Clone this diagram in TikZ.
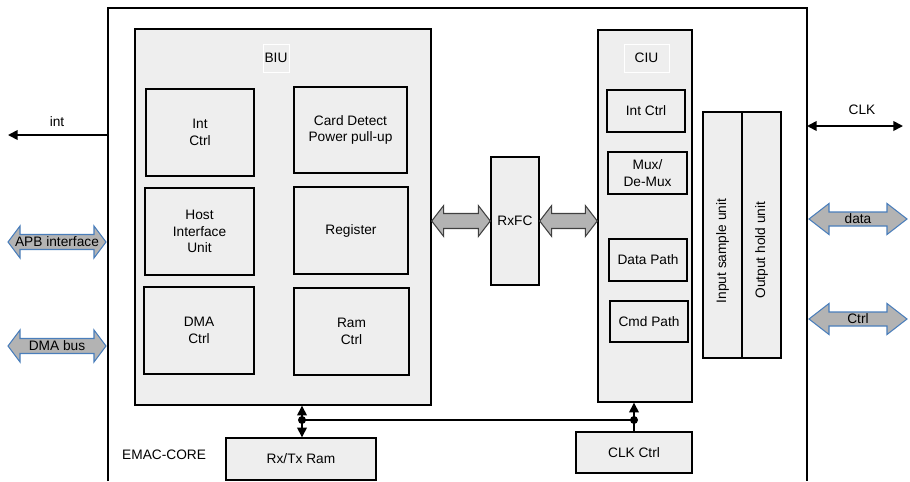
\documentclass[tikz,border=0pt]{standalone}
\usepackage{fontspec}
\setmainfont{Liberation Sans}
\usetikzlibrary{arrows.meta,calc}
\definecolor{boxGray}{HTML}{EEEEEE}
\definecolor{busGray}{HTML}{B3B3B3}
\definecolor{busBlue}{HTML}{4A7EBB}
\definecolor{busDark}{HTML}{404040}
\newlength\upx
\setlength\upx{0.2mm}

\begin{document}
\begin{tikzpicture}[x=0.2mm,y=-0.2mm,
    every node/.style={font=\fontsize{7.8}{9.3}\selectfont},
    sz/.style 2 args={minimum width=#1*\upx,minimum height=#2*\upx},
    fat/.style n args={4}{draw=#1,fill=busGray,line width=0.6pt,
      to path={let \p1=(\tikztostart),\p2=(\tikztotarget) in
        (\x1,\y1) -- (\x1+#2*\upx,\y1+#3*\upx) -- (\x1+#2*\upx,\y1+#4*\upx)
        -- (\x2-#2*\upx,\y1+#4*\upx) -- (\x2-#2*\upx,\y1+#3*\upx) -- (\x2,\y1)
        -- (\x2-#2*\upx,\y1-#3*\upx) -- (\x2-#2*\upx,\y1-#4*\upx)
        -- (\x1+#2*\upx,\y1-#4*\upx) -- (\x1+#2*\upx,\y1-#3*\upx) -- cycle}}]
  \tikzstyle{unit}=[draw,fill=boxGray,line width=0.8pt,inner sep=0pt]
  \tikzstyle{blk}=[draw,fill=boxGray,line width=0.8pt,inner sep=0pt,align=center]
  \tikzstyle{tag}=[draw=white,line width=0.5pt,fill=boxGray,inner sep=0pt]
  \tikzstyle{arr}=[line width=0.8pt,-{Triangle[length=5.5pt,width=5.5pt]}]
  \tikzstyle{dbl}=[line width=1pt,{Triangle[length=5.5pt,width=5.5pt]}-{Triangle[length=5.5pt,width=5.5pt]}]
  \useasboundingbox (0,0) rectangle (910,481);

  % EMAC core frame, open at the bottom
  \draw[line width=0.9pt] (108,481) -- (108,8) -- (807,8) -- (807,481);
  \node[anchor=west] (core) at (116,455) {EMAC-CORE};

  % BIU
  \node[unit,sz={296}{376}] (biu) at (283,217) {};
  \node[tag,sz={26}{28}] (biut) at (276,58) {BIU};
  \node[blk,sz={108}{87}] (bint) at (200,132.5) {Int\\Ctrl};
  \node[blk,sz={113}{86}] (card) at (350.5,130) {Card Detect\\Power pull-up};
  \node[blk,sz={109}{87}] (host) at (199.5,231.5) {Host\\Interface\\Unit};
  \node[blk,sz={114}{87}] (reg) at (351,230.5) {Register};
  \node[blk,sz={110}{87}] (dma) at (199,330.5) {DMA\\Ctrl};
  \node[blk,sz={115}{87}] (ram) at (351.5,331.5) {Ram\\Ctrl};

  % RxFC
  \node[blk,sz={48}{128}] (rxfc) at (515,221) {RxFC};

  % CIU
  \node[unit,sz={94}{372}] (ciu) at (645,216) {};
  \node[tag,sz={45}{28}] (ciut) at (646.5,58) {CIU};
  \node[blk,sz={78}{42}] (cint) at (646,111) {Int Ctrl};
  \node[blk,sz={79}{42}] (mux) at (647.5,173) {Mux/\\De-Mux};
  \node[blk,sz={78}{42}] (dpath) at (648,260) {Data Path};
  \node[blk,sz={78}{41}] (cpath) at (649,321.5) {Cmd Path};

  % sample / hold units
  \node[blk,sz={39}{246}] (insmp) at (722.5,235) {};
  \node[blk,sz={39}{246}] (outhld) at (761.5,235) {};
  \node[rotate=90] (insmpt) at (722.5,251) {Input sample unit};
  \node[rotate=90] (outhldt) at (761.5,250) {Output hold unit};

  % bottom blocks
  \node[blk,sz={150}{42}] (rxram) at (301,459) {Rx/Tx Ram};
  \node[blk,sz={116}{41}] (clkc) at (634,452.5) {CLK Ctrl};

  % buses between BIU, RxFC and CIU
  \draw[fat={busDark}{12}{15.5}{7.5}] (biu.east |- rxfc) to (rxfc.west);
  \draw[fat={busDark}{12}{15.5}{7.5}] (rxfc.east) to (ciu.west |- rxfc);

  % left side
  \coordinate (intR) at (108,135);
  \coordinate (intL) at (8,135);
  \draw[arr,line width=1pt] (intR) -- (intL);
  \node (intt) at (57,122) {int};
  \coordinate (apbL) at (8,242);
  \coordinate (apbR) at (106,242);
  \draw[fat={busBlue}{12}{16}{7.5}] (apbL) to (apbR);
  \node (apb) at (57,242) {APB interface};
  \coordinate (dmaL) at (8,346);
  \coordinate (dmaR) at (106,346);
  \draw[fat={busBlue}{12}{16}{7.5}] (dmaL) to (dmaR);
  \node (dmab) at (57,346) {DMA bus};

  % right side
  \coordinate (clkL) at (807,126);
  \coordinate (clkR) at (903,126);
  \draw[dbl] (clkL) -- (clkR);
  \node (clkt) at (862,110) {CLK};
  \coordinate (dataL) at (809,219);
  \coordinate (dataR) at (907,219);
  \draw[fat={busBlue}{20}{15.5}{7}] (dataL) to (dataR);
  \node (data) at (858,219) {data};
  \coordinate (ctrlL) at (809,319);
  \coordinate (ctrlR) at (907,319);
  \draw[fat={busBlue}{20}{15.5}{7}] (ctrlL) to (ctrlR);
  \node (ctrl) at (858,319) {Ctrl};

  % bottom connections
  \coordinate (j1) at (302,420);
  \coordinate (j2) at (634,420);
  \draw[line width=0.8pt] (j1) -- (j2);
  \draw[arr] (j1) -- (j1 |- biu.south);
  \draw[arr] (j1) -- (j1 |- rxram.north);
  \draw[arr] (j2) -- (j2 |- ciu.south);
  \draw[line width=0.8pt] (j2) -- (clkc.north);
  \fill (j1) circle[radius=0.8mm];
  \fill (j2) circle[radius=0.8mm];
\end{tikzpicture}
\end{document}
